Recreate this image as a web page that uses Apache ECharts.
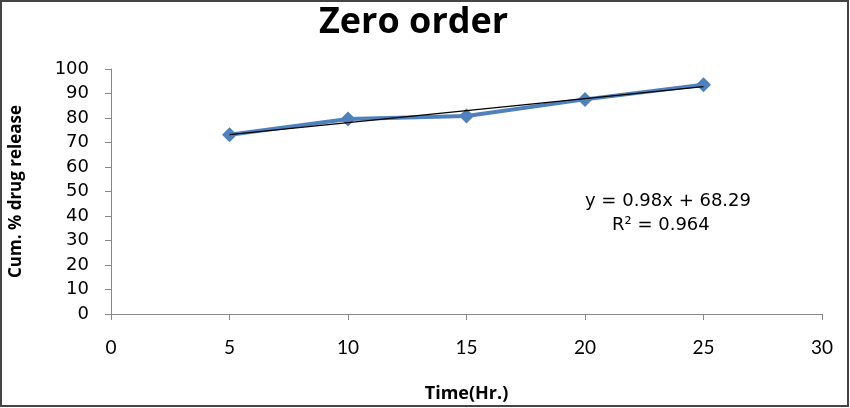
<!DOCTYPE html>
<html><head><meta charset="utf-8">
<script src="https://cdn.jsdelivr.net/npm/echarts@6/dist/echarts.min.js"></script>
<style>html,body{margin:0;padding:0;background:#fff}#c{width:850px;height:408px}</style>
</head><body><div id="c"></div>
<script>
const timeHr = [5, 10, 15, 20, 25];
const cumRelease = [73.2, 79.6, 80.8, 87.6, 93.6];
const trendX = [5, 25];
const trendY = [73.19, 92.79];
const equationText = 'y = 0.98x + 68.29';
const r2Text = 'R² = 0.964';
const titleText = 'Zero order';
const xName = 'Time(Hr.)';
const yName = 'Cum. % drug release';

const chart = echarts.init(document.getElementById('c'));
chart.setOption({
  animation: false,
  backgroundColor: '#fff',
  title: [{
    text: titleText, left: 314, top: 0,
    textStyle: {fontFamily: 'Open Sans', fontWeight: 'bold', fontSize: 36, color: '#000'}
  }],
  grid: {left: 109, right: 28, top: 69, bottom: 89},
  xAxis: {
    type: 'value', min: 0, max: 30, interval: 5,
    name: xName, nameLocation: 'middle', nameGap: 71,
    nameTextStyle: {fontFamily: 'Open Sans', fontWeight: 'bold', fontSize: 18, color: '#000'},
    axisLine: {lineStyle: {color: '#888', width: 1}},
    axisTick: {show: true, length: 6, lineStyle: {color: '#888'}},
    axisLabel: {margin: 24, fontFamily: 'Lato', fontSize: 19, color: '#000'},
    splitLine: {show: false}
  },
  yAxis: {
    type: 'value', min: 0, max: 100, interval: 10,
    name: yName, nameLocation: 'middle', nameGap: 86,
    nameTextStyle: {fontFamily: 'Open Sans', fontWeight: 'bold', fontSize: 17, color: '#000'},
    axisLine: {show: true, lineStyle: {color: '#888', width: 1}},
    axisTick: {show: true, length: 6, lineStyle: {color: '#888'}},
    axisLabel: {margin: 22, fontFamily: 'DejaVu Sans', fontSize: 18, color: '#000'},
    splitLine: {show: false}
  },
  series: [{
    type: 'line',
    data: timeHr.map((x, i) => [x, cumRelease[i]]),
    symbol: 'diamond', symbolSize: 15,
    lineStyle: {color: '#4F81BD', width: 4},
    itemStyle: {color: '#4F81BD'},
    z: 2
  }, {
    type: 'line',
    data: trendX.map((x, i) => [x, trendY[i]]),
    symbol: 'none',
    lineStyle: {color: '#000', width: 1.2},
    z: 3
  }],
  graphic: [
    {type: 'text', left: 585, top: 192, style: {text: equationText, font: '18px "DejaVu Sans"', fill: '#000'}},
    {type: 'text', left: 612, top: 216, style: {text: r2Text, font: '18px "DejaVu Sans"', fill: '#000'}},
    {type: 'rect', shape: {x: 1, y: 1, width: 847, height: 405}, style: {fill: 'none', stroke: '#444', lineWidth: 2}, silent: true}
  ]
});
</script></body></html>
